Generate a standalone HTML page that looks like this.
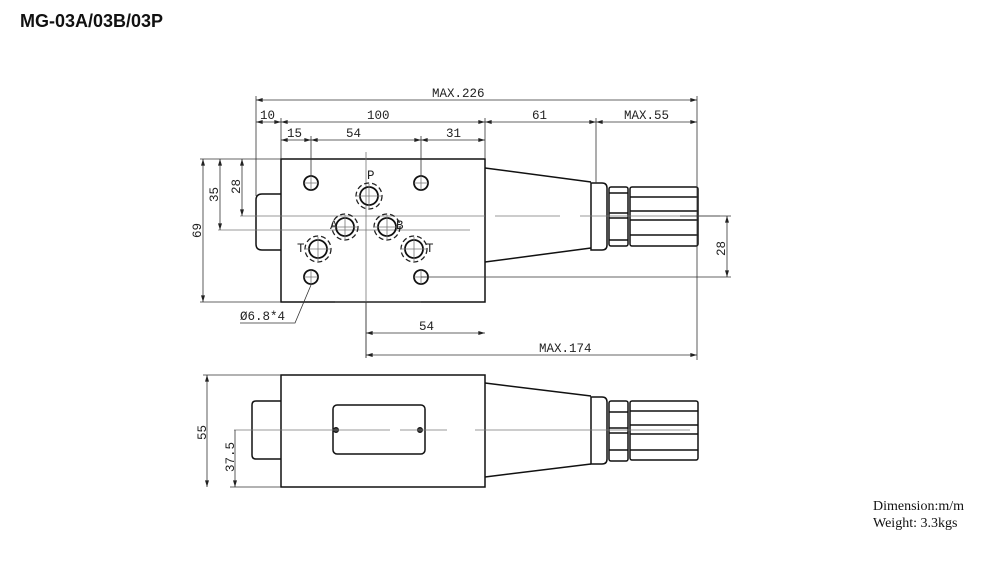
<!DOCTYPE html>
<html><head><meta charset="utf-8"><style>
html,body{margin:0;padding:0;background:#fff;}
svg{display:block;}
.t{font-family:"Liberation Mono",monospace;font-size:12.5px;fill:#222;}
.o{fill:none;stroke:#111;stroke-width:1.5;}
.h{fill:none;stroke:#111;stroke-width:1.8;}
.d{fill:none;stroke:#333;stroke-width:0.8;}
.c{fill:none;stroke:#777;stroke-width:0.8;}
.dc{fill:none;stroke:#222;stroke-width:1.3;stroke-dasharray:5 3;}
</style></head><body>
<svg width="1000" height="570" viewBox="0 0 1000 570" xmlns="http://www.w3.org/2000/svg">
<defs>
<marker id="a" viewBox="0 0 10 6" refX="10" refY="3" markerWidth="9" markerHeight="4" orient="auto-start-reverse" markerUnits="userSpaceOnUse"><path d="M0,0L10,3L0,6z" fill="#222"/></marker>
</defs>
<text x="20" y="27" font-family="Liberation Sans, Arial, sans-serif" font-weight="bold" font-size="18" fill="#111">MG-03A/03B/03P</text>

<!-- TOP VIEW -->
<path class="o" d="M281,194 H262 Q256,194 256,200 V244 Q256,250 262,250 H281"/>
<rect class="o" x="281" y="159" width="204" height="143"/>
<path class="o" d="M485,168 L591,182 M485,262 L591,248"/>
<path class="o" d="M591,183 H602 Q607,183 607,188 V245 Q607,250 602,250 H591 Z"/>
<rect class="o" x="609" y="187" width="19" height="59" rx="2"/>
<path class="o" d="M609,193H628M609,213H628M609,218H628M609,240H628"/>
<rect class="o" x="630" y="187" width="68" height="59" rx="2"/>
<path class="o" d="M630,197H698M630,211H698M630,220H698M630,235H698"/>
<!-- centerlines -->
<path class="c" d="M366,152V358"/>
<path class="c" d="M240,216H485M495,216H560M580,216H720"/>
<path class="c" d="M218,230H470"/>
<!-- holes -->
<g class="h">
<circle cx="311" cy="183" r="7"/><circle cx="421" cy="183" r="7"/>
<circle cx="311" cy="277" r="7"/><circle cx="421" cy="277" r="7"/>
<circle cx="369" cy="196" r="9"/><circle cx="345" cy="227" r="9"/>
<circle cx="387" cy="227" r="9"/><circle cx="318" cy="249" r="9"/>
<circle cx="414" cy="249" r="9"/>
</g>
<g class="dc">
<circle cx="369" cy="196" r="13"/><circle cx="345" cy="227" r="13"/>
<circle cx="387" cy="227" r="13"/><circle cx="318" cy="249" r="13"/>
<circle cx="414" cy="249" r="13"/>
</g>
<g class="c">
<path d="M304,183h14M311,176v14M414,183h14M421,176v14M304,277h14M311,270v14M414,277h14M421,270v14"/>
<path d="M356,196h26M369,184v24M332,227h26M345,215v24M374,227h26M387,215v24M305,249h26M318,237v24M401,249h26M414,237v24"/>
</g>
<text class="t" x="367" y="179" font-size="10" font-family="Liberation Serif,serif">P</text>
<text class="t" x="330" y="229" font-size="9" font-family="Liberation Serif,serif">A</text>
<text class="t" x="396" y="229" font-size="9" font-family="Liberation Serif,serif">B</text>
<text class="t" x="297" y="252" font-size="9" font-family="Liberation Serif,serif">T</text>
<text class="t" x="426" y="252" font-size="9" font-family="Liberation Serif,serif">T</text>
<!-- extension lines -->
<path class="d" d="M256,96V196M697,96V360M281,118V159M485,118V159M596,118V183M311,136V176M421,136V176"/>
<path class="d" d="M200,159H281M200,302H281M366,302V358"/>
<path class="d" d="M421,277H731M680,216H731"/>
<path class="d" d="M335,302H421"/>
<!-- dimensions -->
<path class="d" marker-start="url(#a)" marker-end="url(#a)" d="M256,100H697"/>
<path class="d" marker-start="url(#a)" marker-end="url(#a)" d="M256,122H281"/>
<path class="d" marker-start="url(#a)" marker-end="url(#a)" d="M281,122H485"/>
<path class="d" marker-start="url(#a)" marker-end="url(#a)" d="M485,122H596"/>
<path class="d" marker-start="url(#a)" marker-end="url(#a)" d="M596,122H697"/>
<path class="d" marker-start="url(#a)" marker-end="url(#a)" d="M281,140H311"/>
<path class="d" marker-start="url(#a)" marker-end="url(#a)" d="M311,140H421"/>
<path class="d" marker-start="url(#a)" marker-end="url(#a)" d="M421,140H485"/>
<path class="d" marker-start="url(#a)" marker-end="url(#a)" d="M203,159V302"/>
<path class="d" marker-start="url(#a)" marker-end="url(#a)" d="M220,159V230"/>
<path class="d" marker-start="url(#a)" marker-end="url(#a)" d="M242,159V216"/>
<path class="d" marker-start="url(#a)" marker-end="url(#a)" d="M727,216V277"/>
<path class="d" marker-start="url(#a)" marker-end="url(#a)" d="M366,333H485"/>
<path class="d" marker-start="url(#a)" marker-end="url(#a)" d="M366,355H697"/>
<text class="t" x="432" y="97">MAX.226</text>
<text class="t" x="260" y="119">10</text>
<text class="t" x="367" y="119">100</text>
<text class="t" x="532" y="119">61</text>
<text class="t" x="624" y="119">MAX.55</text>
<text class="t" x="287" y="137">15</text>
<text class="t" x="346" y="137">54</text>
<text class="t" x="446" y="137">31</text>
<text class="t" x="539" y="352">MAX.174</text>
<text class="t" x="419" y="330">54</text>
<text class="t" transform="translate(201,238) rotate(-90)">69</text>
<text class="t" transform="translate(218,202) rotate(-90)">35</text>
<text class="t" transform="translate(240,194) rotate(-90)">28</text>
<text class="t" transform="translate(725,256) rotate(-90)">28</text>
<text class="t" x="240" y="320">Ø6.8*4</text>
<path class="d" d="M240,323H295L311,285"/>

<!-- FRONT VIEW -->
<path class="o" d="M281,401 H256 Q252,401 252,405 V455 Q252,459 256,459 H281"/>
<rect class="o" x="281" y="375" width="204" height="112"/>
<rect class="o" x="333" y="405" width="92" height="49" rx="4"/>
<circle cx="336" cy="430" r="2.5" fill="#333" stroke="#111"/>
<circle cx="420" cy="430" r="2.5" fill="#333" stroke="#111"/>
<path class="o" d="M485,383 L591,396 M485,477 L591,464"/>
<path class="o" d="M591,397 H602 Q607,397 607,402 V459 Q607,464 602,464 H591 Z"/>
<rect class="o" x="609" y="401" width="19" height="60" rx="2"/>
<path class="o" d="M609,412H628M609,428H628M609,433H628M609,450H628"/>
<rect class="o" x="630" y="401" width="68" height="59" rx="2"/>
<path class="o" d="M630,411H698M630,425H698M630,434H698M630,450H698"/>
<path class="c" d="M234,430H390M400,430H447M475,430H690"/>
<path class="d" d="M203,375H281M230,487H281"/>
<path class="d" marker-start="url(#a)" marker-end="url(#a)" d="M207,375V487"/>
<path class="d" marker-end="url(#a)" d="M235,430V487"/>
<text class="t" transform="translate(206,440) rotate(-90)">55</text>
<text class="t" transform="translate(234,472) rotate(-90)">37.5</text>

<text x="873" y="510" font-family="Liberation Serif,serif" font-size="14" fill="#111">Dimension:m/m</text>
<text x="873" y="527" font-family="Liberation Serif,serif" font-size="14" fill="#111">Weight: 3.3kgs</text>
</svg>
</body></html>
